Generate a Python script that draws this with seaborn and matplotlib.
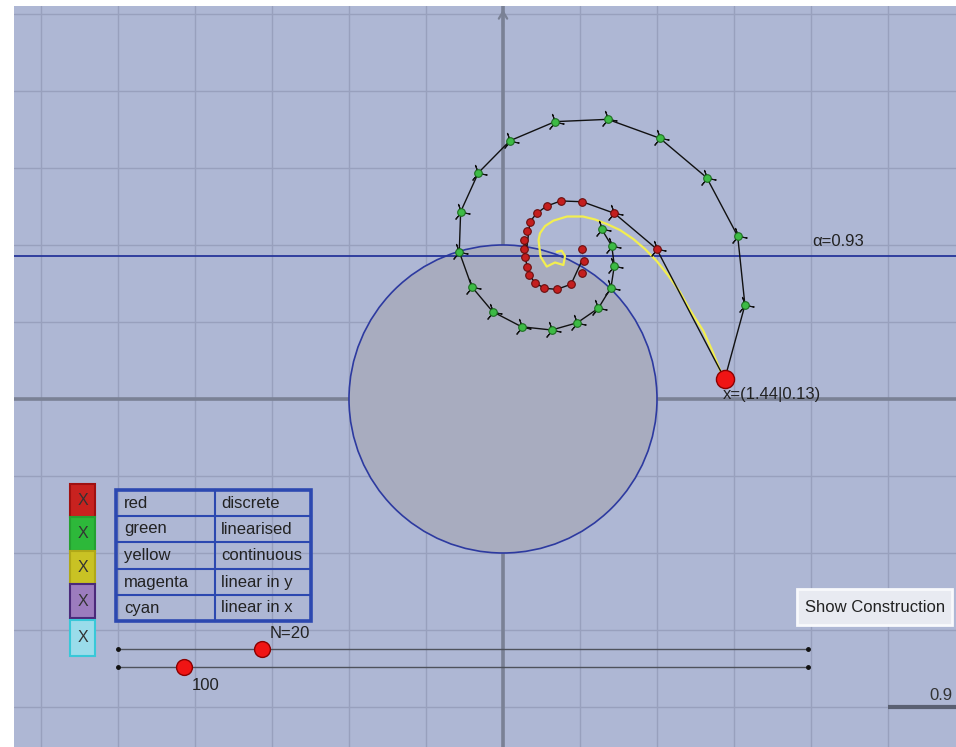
import numpy as np
import pandas as pd
import matplotlib
matplotlib.use("Agg")
import matplotlib.pyplot as plt
import seaborn as sns
from matplotlib.patches import Circle, Rectangle

# ---------------- data (graph units) ----------------
start_x, start_y = 1.44, 0.13
alpha_val = 0.93

green_x = [1.571, 1.524, 1.323, 1.019, 0.680, 0.338, 0.045, -0.160, -0.275, -0.284,
           -0.203, -0.067, 0.121, 0.316, 0.482, 0.619, 0.701, 0.723, 0.706, 0.641]
green_y = [0.610, 1.058, 1.437, 1.693, 1.816, 1.801, 1.677, 1.469, 1.216, 0.956,
           0.729, 0.567, 0.469, 0.448, 0.495, 0.589, 0.723, 0.866, 0.995, 1.102]

red_x = [0.998, 0.723, 0.515, 0.375, 0.284, 0.219, 0.175, 0.154, 0.138, 0.136,
         0.143, 0.154, 0.171, 0.208, 0.268, 0.349, 0.442, 0.511, 0.528, 0.511]
red_y = [0.974, 1.206, 1.281, 1.286, 1.253, 1.206, 1.151, 1.093, 1.032, 0.974,
         0.920, 0.859, 0.805, 0.755, 0.719, 0.712, 0.745, 0.816, 0.896, 0.974]

yellow_x = [1.442, 1.409, 1.357, 1.301, 1.214, 1.149, 1.071, 0.998, 0.922, 0.846,
            0.760, 0.675, 0.597, 0.519, 0.416, 0.327, 0.273, 0.240, 0.231, 0.236,
            0.244, 0.284, 0.338, 0.392, 0.403, 0.381, 0.349, 0.338]
yellow_y = [0.136, 0.188, 0.318, 0.442, 0.578, 0.695, 0.805, 0.896, 0.974, 1.039,
            1.097, 1.136, 1.166, 1.185, 1.185, 1.158, 1.123, 1.076, 1.032, 0.987,
            0.924, 0.860, 0.838, 0.870, 0.929, 0.963, 0.956, 0.935]

legend_names = ["red", "green", "yellow", "magenta", "cyan"]
legend_desc = ["discrete", "linearised", "continuous", "linear in y", "linear in x"]
N_value = 20
second_value = 100

# ---------------- figure ----------------
W, H = 956, 747
sns.set_style("white")
plt.rcParams['font.family'] = ['Liberation Sans', 'DejaVu Sans']
fig = plt.figure(figsize=(W / 100, H / 100), dpi=100)
fig.patch.set_facecolor("white")
left_px, top_px = 14, 6
ax = fig.add_axes([left_px / W, 0, (W - left_px) / W, (H - top_px) / H])
ox, oy, unit = 503, 399, 154.0
XLIM = ((left_px - ox) / unit, (W - ox) / unit)
YLIM = ((oy - H) / unit, (oy - top_px) / unit)


def P(px, py):
    return (px - ox) / unit, (oy - py) / unit


def L(pix):
    return pix / unit


FS = 12
TXT = '#222222'

ax.set_facecolor('#AEB7D4')
for s in ax.spines.values():
    s.set_visible(False)

# axes lines
ax.axhline(0, color='#7A8195', lw=2.6, zorder=1)
ax.axvline(0, color='#7A8195', lw=2.6, zorder=1)
ax.annotate('', xy=(0, YLIM[1] - 0.005), xytext=(0, YLIM[1] - 0.15),
            arrowprops=dict(arrowstyle='->,head_length=0.5,head_width=0.3', color='#7A8195', lw=1.6),
            zorder=1)

# unit circle
ax.add_patch(Circle((0, 0), 1, facecolor='#A8ACBF', edgecolor='#2D3AA0', lw=1.2, zorder=2))

# alpha line
ax.axhline(alpha_val, color='#26359A', lw=1.3, zorder=3)
ax.text(*P(812, 241), f"α={alpha_val}", fontsize=FS, color=TXT, va='center', ha='left', zorder=8)

# yellow continuous
sns.lineplot(x=yellow_x, y=yellow_y, sort=False, color='#F2EE50', lw=1.6, ax=ax, zorder=4)

# green linearised
gx = [start_x] + green_x
gy = [start_y] + green_y
sns.lineplot(x=gx, y=gy, sort=False, color='#111111', lw=1.0, ax=ax, zorder=5)
ax.plot(green_x, green_y, ls='none', marker=(3, 2, 20), ms=13, mec='#111111', mew=0.8, zorder=6)
sns.scatterplot(x=green_x, y=green_y, color='#3DBB45', edgecolor='#1E6E22', linewidth=0.8,
                s=30, ax=ax, zorder=7)

# red discrete
rx = [start_x] + red_x
ry = [start_y] + red_y
sns.lineplot(x=rx, y=ry, sort=False, color='#111111', lw=1.0, ax=ax, zorder=5)
ax.plot(red_x[:2], red_y[:2], ls='none', marker=(3, 2, 20), ms=13, mec='#111111', mew=0.8, zorder=6)
sns.scatterplot(x=red_x, y=red_y, color='#C41E1E', edgecolor='#6A0E0E', linewidth=0.8,
                s=30, ax=ax, zorder=7)

# start point
sns.scatterplot(x=[start_x], y=[start_y], color='#F01414', edgecolor='#8B0000', linewidth=1,
                s=170, ax=ax, zorder=8)
ax.text(*P(723, 395), f"x=({start_x}|{start_y})", fontsize=FS, color=TXT,
        va='center', ha='left', zorder=8)

# checkboxes
box_fc = ['#C8221F', '#2DB83A', '#C9C224', '#9C7CBE', '#9ADCEA']
box_ec = ['#A01010', '#25A030', '#B0A818', '#4B2A7A', '#38C8D8']
box_top = [484, 517, 551, 584, 620]
box_bot = [517, 551, 584, 618, 656]
for fc, ec, t, b in zip(box_fc, box_ec, box_top, box_bot):
    x0, y0 = P(70, b)
    ax.add_patch(Rectangle((x0, y0), L(25), L(b - t), facecolor=fc, edgecolor=ec, lw=1.5, zorder=8))
    ax.text(*P(82.5, (t + b) / 2), "X", fontsize=11.5, color='#333333', ha='center', va='center', zorder=9)

# table
rows = [490, 516, 542, 569, 595, 621]
tx0, tx1, tx2 = 116, 215, 311
x0, y0 = P(tx0, rows[-1])
ax.add_patch(Rectangle((x0, y0), L(tx2 - tx0), L(rows[-1] - rows[0]), facecolor='none',
                       edgecolor='#2C48B0', lw=2.6, zorder=9))
for r in rows[1:-1]:
    ax.plot([P(tx0, r)[0], P(tx2, r)[0]], [P(tx0, r)[1]] * 2, color='#2C48B0', lw=1.5, zorder=9)
ax.plot([P(tx1, 0)[0]] * 2, [P(0, rows[0])[1], P(0, rows[-1])[1]], color='#2C48B0', lw=1.5, zorder=9)
for i, (n, d) in enumerate(zip(legend_names, legend_desc)):
    yc = (rows[i] + rows[i + 1]) / 2
    ax.text(*P(124, yc), n, fontsize=FS, color=TXT, ha='left', va='center', zorder=10)
    ax.text(*P(221, yc), d, fontsize=FS, color=TXT, ha='left', va='center', zorder=10)

# sliders
for ypix in (649, 667):
    xa, ya = P(118, ypix)
    xb, _ = P(808, ypix)
    ax.plot([xa, xb], [ya, ya], color='#4E525C', lw=1.0, zorder=8)
    ax.plot([xa, xb], [ya, ya], ls='none', marker='o', ms=2.5, color='#111111', zorder=8)
sns.scatterplot(x=[P(262, 649)[0], P(184, 667)[0]], y=[P(262, 649)[1], P(184, 667)[1]],
                color='#F01414', edgecolor='#8B0000', linewidth=1, s=130, ax=ax, zorder=9)
ax.text(*P(270, 633), f"N={N_value}", fontsize=FS, color=TXT, ha='left', va='center', zorder=9)
ax.text(*P(192, 685), f"{second_value}", fontsize=FS, color=TXT, ha='left', va='center', zorder=9)

# button
bx0, by0 = P(797, 625)
ax.add_patch(Rectangle((bx0, by0), L(155), L(36), facecolor='#E8EAF1', edgecolor='#F8F9FC',
                       lw=2, zorder=9))
ax.text(*P(805, 607), "Show Construction", fontsize=FS, color=TXT, ha='left', va='center', zorder=10)

# bottom-right scale bar
ax.plot([P(888, 707)[0], P(960, 707)[0]], [P(888, 707)[1]] * 2, color='#5A6072', lw=3, zorder=8,
        solid_capstyle='butt')
ax.text(*P(952, 696), "0.9", fontsize=FS, color='#333333', ha='right', va='center', zorder=9)

# grid and limits (set last so nothing rescales them)
ax.set_xticks(np.arange(-3, 3.01, 0.5))
ax.set_yticks(np.arange(-2.5, 2.51, 0.5))
ax.tick_params(length=0, labelbottom=False, labelleft=False)
ax.grid(True, color='#98A0BD', lw=1)
ax.set_axisbelow(True)
ax.set_xlabel('')
ax.set_ylabel('')
ax.set_xlim(*XLIM)
ax.set_ylim(*YLIM)

fig.savefig("out.png", dpi=100, facecolor=fig.get_facecolor())
